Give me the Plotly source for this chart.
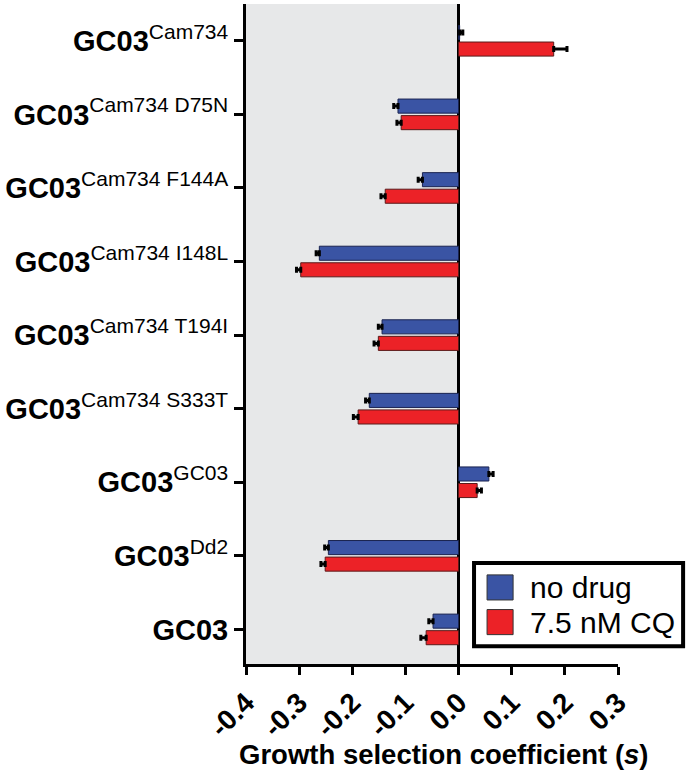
import plotly.graph_objects as go

# strains, top to bottom in the picture
strains = ["Cam734", "Cam734 D75N", "Cam734 F144A", "Cam734 I148L",
           "Cam734 T194I", "Cam734 S333T", "GC03", "Dd2", ""]
no_drug = [0.002, -0.114, -0.068, -0.262, -0.144, -0.168, 0.057, -0.245, -0.048]
no_drug_err = [0.006, 0.008, 0.008, 0.006, 0.007, 0.007, 0.008, 0.007, 0.008]
cq = [0.179, -0.108, -0.138, -0.297, -0.151, -0.189, 0.035, -0.251, -0.061]
cq_err = [0.025, 0.008, 0.008, 0.008, 0.008, 0.009, 0.008, 0.008, 0.010]
series = ["no drug", "7.5 nM CQ"]
colors = ["#3a54a4", "#ec2227"]
xticks = [-0.4, -0.3, -0.2, -0.1, 0, 0.1, 0.2, 0.3]

labels = [f"<b>GC03</b><sup><span style='font-size:21px'>{s}</span></sup>" if s else "<b>GC03</b>"
          for s in strains]
pos = list(range(len(strains)))[::-1]


def one_sided(vals, errs):
    # error bar only on the outer end of each bar
    plus = [e if v >= 0 else 0 for v, e in zip(vals, errs)]
    minus = [e if v < 0 else 0 for v, e in zip(vals, errs)]
    return dict(type="data", symmetric=False, array=plus, arrayminus=minus,
                color="black", thickness=3, width=3)


fig = go.Figure()
fig.add_bar(y=pos, x=cq, orientation="h", name=series[1], showlegend=False,
            marker=dict(color=colors[1], line=dict(color="#5a1a1a", width=1)),
            error_x=one_sided(cq, cq_err))
fig.add_bar(y=pos, x=no_drug, orientation="h", name=series[0], showlegend=False,
            marker=dict(color=colors[0], line=dict(color="#1a2350", width=1)),
            error_x=one_sided(no_drug, no_drug_err))

fig.add_shape(type="rect", xref="x", yref="paper", x0=-0.4, x1=0, y0=0, y1=1,
              fillcolor="#e7e8e9", line_width=0, layer="below")

# legend drawn by hand (big swatches like the original)
fig.add_shape(type="rect", xref="paper", yref="paper", x0=0.613, x1=1.175, y0=0.027, y1=0.153,
              fillcolor="white", line=dict(color="black", width=4))
for i, (name, col) in enumerate(zip(series, colors)):
    y0 = 0.097 - i * 0.0525
    fig.add_shape(type="rect", xref="paper", yref="paper", x0=0.648, x1=0.718,
                  y0=y0, y1=y0 + 0.038, fillcolor=col, line=dict(color="#333333", width=1))
    fig.add_annotation(xref="paper", yref="paper", x=0.758, y=y0 + 0.019, text=name,
                       showarrow=False, xanchor="left", yanchor="middle",
                       font=dict(size=30))

# axis title, a bit right of the plot centre as in the original
fig.add_annotation(xref="paper", yref="paper", x=0.532, y=-0.137, yanchor="middle",
                   text="<b>Growth selection coefficient (<i>s</i>)</b>",
                   showarrow=False, font=dict(size=27.5))

fig.update_layout(
    width=687, height=781,
    margin=dict(l=246, r=69, t=4, b=117),
    paper_bgcolor="white", plot_bgcolor="white",
    barmode="group", bargap=0.55, bargroupgap=0.15,
    font=dict(family="Liberation Sans, Arial, sans-serif", color="black"),
    showlegend=False,
)
fig.update_xaxes(range=[-0.4, 0.3], tickvals=xticks,
                 ticktext=[f"<b>{v:.1f}</b>" for v in xticks],
                 tickangle=-45, tickfont=dict(size=28), automargin=False,
                 showline=True, linecolor="black", linewidth=3,
                 ticks="outside", ticklen=8, tickwidth=3, tickcolor="black",
                 showgrid=False, zeroline=True, zerolinecolor="black", zerolinewidth=3)
fig.update_yaxes(range=[-0.47, 8.5], tickvals=pos, ticktext=labels,
                 tickfont=dict(size=29), automargin=False,
                 showline=True, linecolor="black", linewidth=3,
                 ticks="outside", ticklen=9, tickwidth=3, tickcolor="black",
                 showgrid=False, zeroline=False)

fig.write_html("out.html", config={"displayModeBar": False},
               post_script="document.body.style.margin='0';")
